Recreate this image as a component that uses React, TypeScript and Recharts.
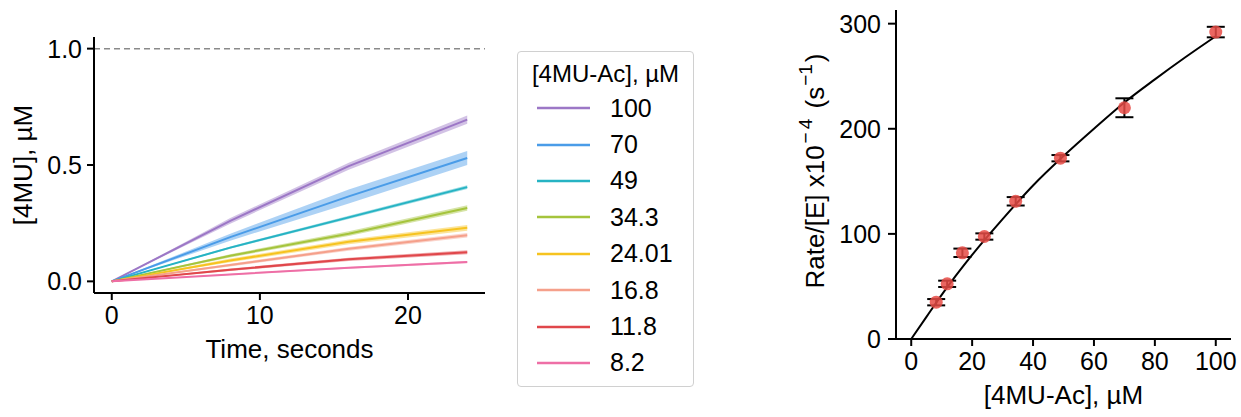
import React from "react";
import {
  Area,
  ComposedChart,
  ErrorBar,
  Legend,
  Line,
  ReferenceLine,
  Scatter,
  XAxis,
  YAxis,
} from "recharts";

const FONT = "'Liberation Sans', Arial, sans-serif";

// left panel: product formation over time, one trace per substrate level
const TIME = [0, 8, 16, 24];
const CONCS = ["100", "70", "49", "34.3", "24.01", "16.8", "11.8", "8.2"];
const COLORS = ["#9c77c6", "#4a9ce8", "#26b3c3", "#a5c43c", "#f6c31f", "#f5a08b", "#e0474b", "#ee6fa6"];
const MEANS = [
  [0, 0.26, 0.495, 0.695],
  [0, 0.19, 0.365, 0.53],
  [0, 0.145, 0.275, 0.405],
  [0, 0.11, 0.205, 0.315],
  [0, 0.09, 0.17, 0.23],
  [0, 0.07, 0.14, 0.198],
  [0, 0.05, 0.095, 0.125],
  [0, 0.03, 0.058, 0.083],
];
const SPREADS = [
  [0, 0.012, 0.015, 0.018],
  [0, 0.015, 0.03, 0.03],
  [0, 0.005, 0.007, 0.008],
  [0, 0.007, 0.01, 0.012],
  [0, 0.008, 0.01, 0.012],
  [0, 0.006, 0.008, 0.01],
  [0, 0.005, 0.007, 0.009],
  [0, 0.003, 0.004, 0.005],
];
const TIME_TICKS = [0, 10, 20];
const PRODUCT_TICKS = [0, 0.5, 1.0];

// right panel: rate vs substrate with fitted curve
const SUBSTRATE = [8.2, 11.8, 16.8, 24.01, 34.3, 49, 70, 100];
const RATE = [35, 52.5, 82, 97.5, 131, 172, 220, 292];
const RATE_ERR = [3, 3, 4, 3, 4, 3, 9, 5];
const FIT_X = [0, 5, 10, 20, 30, 40, 50, 60, 70, 80, 90, 100];
const FIT_Y = [0, 21, 42, 80, 114, 146, 174, 200, 225, 247, 268, 288];
const SUBSTRATE_TICKS = [0, 20, 40, 60, 80, 100];
const RATE_TICKS = [0, 100, 200, 300];

const traceRows = TIME.map((t, i) => {
  const row: Record<string, any> = { t };
  CONCS.forEach((_, j) => {
    row[`m${j}`] = MEANS[j][i];
    row[`b${j}`] = [MEANS[j][i] - SPREADS[j][i], MEANS[j][i] + SPREADS[j][i]];
  });
  return row;
});
const pointRows = SUBSTRATE.map((x, i) => ({ x, y: RATE[i], err: RATE_ERR[i] }));
const fitRows = FIT_X.map((x, i) => ({ x, y: FIT_Y[i] }));

const axisLine = { stroke: "#000", strokeWidth: 2 };
const tickStyle = { fill: "#000", fontSize: 25, fontFamily: FONT };

function LegendBox() {
  return (
    <div
      style={{
        boxSizing: "border-box",
        width: 177,
        height: 336,
        border: "1px solid #d0d0d0",
        borderRadius: 4,
        background: "#fff",
        paddingTop: 6,
        fontFamily: FONT,
        fontSize: 25,
        color: "#000",
      }}
    >
      <div style={{ height: 32, lineHeight: "32px", textAlign: "center", fontSize: 24 }}>
        [4MU-Ac], µM
      </div>
      {CONCS.map((c, j) => (
        <div key={c} style={{ height: 36.4, display: "flex", alignItems: "center" }}>
          <svg width={53} height={6} style={{ marginLeft: 19 }}>
            <line x1={0} x2={53} y1={3} y2={3} stroke={COLORS[j]} strokeWidth={2.5} />
          </svg>
          <span style={{ marginLeft: 20 }}>{c}</span>
        </div>
      ))}
    </div>
  );
}

function RateLabel({ viewBox }: any) {
  const cx = 815 - 780;
  const cy = 171;
  return (
    <text
      x={cx}
      y={cy}
      transform={`rotate(-90, ${cx}, ${cy})`}
      textAnchor="middle"
      dominantBaseline="central"
      fontSize={26}
      fontFamily={FONT}
      fill="#000"
    >
      Rate/[E] x10
      <tspan dx={2} dy={-10} fontSize={19} letterSpacing={3}>−4</tspan>
      <tspan dy={10}> (s</tspan>
      <tspan dx={1} dy={-10} fontSize={19}>−1</tspan>
      <tspan dx={2} dy={10}>)</tspan>
    </text>
  );
}

function ConcLabel({ viewBox }: any) {
  const cx = 23;
  const cy = viewBox.y + viewBox.height / 2;
  return (
    <text
      x={cx}
      y={cy}
      transform={`rotate(-90, ${cx}, ${cy})`}
      textAnchor="middle"
      dominantBaseline="central"
      fontSize={26}
      fontFamily={FONT}
      fill="#000"
    >
      [4MU], µM
    </text>
  );
}

export default function App() {
  return (
    <div
      style={{
        position: "absolute",
        left: 0,
        top: 0,
        width: 1241,
        height: 417,
        background: "#fff",
        fontFamily: FONT,
      }}
    >
      <div style={{ position: "absolute", left: 0, top: 0 }}>
        <ComposedChart
          width={700}
          height={417}
          data={traceRows}
          margin={{ top: 37, right: 215, bottom: 54, left: 0 }}
        >
          <XAxis
            type="number"
            dataKey="t"
            domain={[-1.2, 25.2]}
            ticks={TIME_TICKS}
            height={70}
            tickSize={7}
            tickMargin={6}
            axisLine={axisLine}
            tickLine={axisLine}
            tick={tickStyle}
            label={{
              value: "Time, seconds",
              position: "insideBottom",
              offset: 5,
              fontSize: 26,
              fill: "#000",
              fontFamily: FONT,
            }}
          />
          <YAxis
            type="number"
            domain={[-0.05, 1.05]}
            ticks={PRODUCT_TICKS}
            width={94}
            tickSize={7}
            tickMargin={5}
            tickFormatter={(v: number) => v.toFixed(1)}
            axisLine={axisLine}
            tickLine={axisLine}
            tick={tickStyle}
            label={{ content: ConcLabel }}
          />
          <ReferenceLine y={1} stroke="#8a8a8a" strokeWidth={1.5} strokeDasharray="6 4" />
          {CONCS.map((c, j) => (
            <Area
              key={`b${c}`}
              type="linear"
              dataKey={`b${j}`}
              stroke="none"
              fill={COLORS[j]}
              fillOpacity={0.45}
              activeDot={false}
              legendType="none"
              isAnimationActive={false}
            />
          ))}
          {CONCS.map((c, j) => (
            <Line
              key={`m${c}`}
              type="linear"
              dataKey={`m${j}`}
              name={c}
              stroke={COLORS[j]}
              strokeWidth={2}
              dot={false}
              activeDot={false}
              isAnimationActive={false}
            />
          ))}
          <Legend
            layout="vertical"
            align="center"
            verticalAlign="middle"
            wrapperStyle={{ left: 517, top: 51, width: 177, height: 336 }}
            content={() => <LegendBox />}
          />
        </ComposedChart>
      </div>
      <div style={{ position: "absolute", left: 780, top: 0 }}>
        <ComposedChart
          width={461}
          height={417}
          margin={{ top: 10, right: 10, bottom: 12, left: 0 }}
        >
          <XAxis
            type="number"
            dataKey="x"
            domain={[-5, 105]}
            ticks={SUBSTRATE_TICKS}
            height={66}
            tickSize={7}
            tickMargin={6}
            axisLine={axisLine}
            tickLine={axisLine}
            tick={tickStyle}
            label={{
              value: "[4MU-Ac], µM",
              position: "insideBottom",
              offset: 1,
              fontSize: 26,
              fill: "#000",
              fontFamily: FONT,
            }}
          />
          <YAxis
            type="number"
            dataKey="y"
            domain={[0, 313]}
            ticks={RATE_TICKS}
            width={116}
            tickSize={8}
            tickMargin={7}
            axisLine={axisLine}
            tickLine={axisLine}
            tick={tickStyle}
            label={{ content: RateLabel }}
          />
          <Line
            data={fitRows}
            type="monotone"
            dataKey="y"
            stroke="#000"
            strokeWidth={2}
            dot={false}
            activeDot={false}
            isAnimationActive={false}
          />
          <Scatter
            data={pointRows}
            dataKey="y"
            fill="#e64b45"
            fillOpacity={0.85}
            shape={(p: any) => <circle cx={p.cx} cy={p.cy} r={6.5} fill="#e64b45" fillOpacity={0.85} />}
            isAnimationActive={false}
          />
          <Scatter
            data={pointRows}
            dataKey="y"
            fill="none"
            shape={() => <g />}
            isAnimationActive={false}
          >
            <ErrorBar dataKey="err" direction="y" width={9} stroke="#000" strokeWidth={2} />
          </Scatter>
        </ComposedChart>
      </div>
    </div>
  );
}
